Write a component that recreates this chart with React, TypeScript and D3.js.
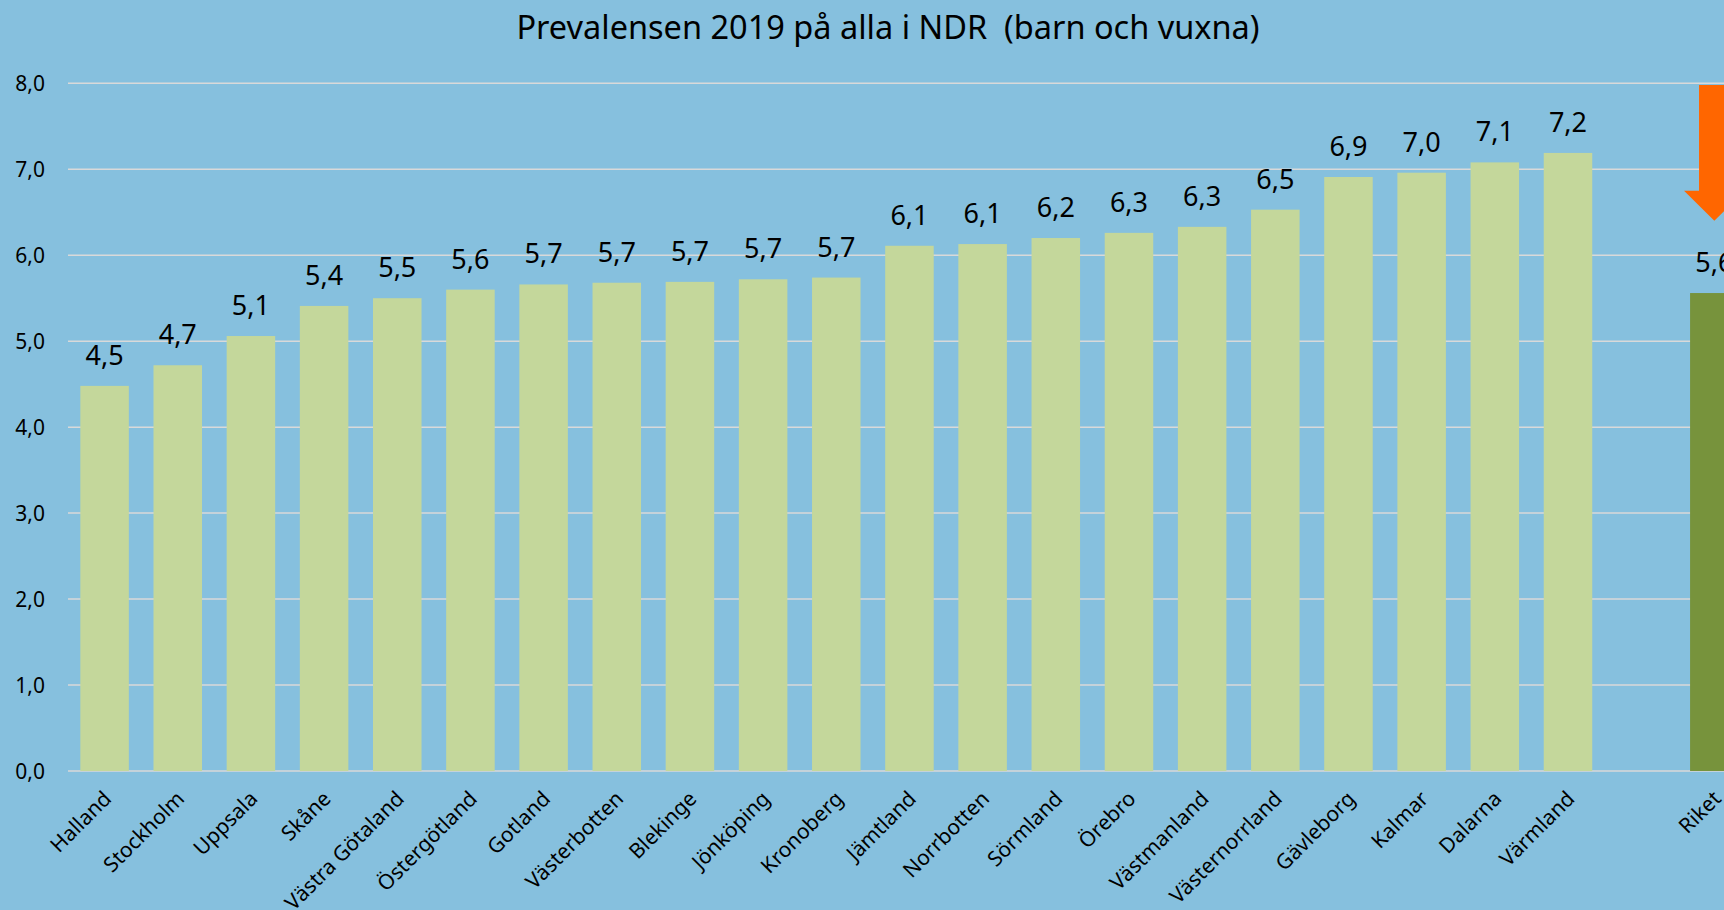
import React, { useEffect, useRef } from "react";
import * as d3 from "d3";

const regions = [
  "Halland", "Stockholm", "Uppsala", "Skåne", "Västra Götaland", "Östergötland",
  "Gotland", "Västerbotten", "Blekinge", "Jönköping", "Kronoberg", "Jämtland",
  "Norrbotten", "Sörmland", "Örebro", "Västmanland", "Västernorrland",
  "Gävleborg", "Kalmar", "Dalarna", "Värmland",
];
const regionValues = [
  4.48, 4.72, 5.06, 5.41, 5.5, 5.6, 5.66, 5.68, 5.69, 5.72, 5.74, 6.11,
  6.13, 6.2, 6.26, 6.33, 6.53, 6.91, 6.96, 7.08, 7.19,
];
const riketLabel = "Riket";
const riketValue = 5.56;
const yTicks = [0, 1, 2, 3, 4, 5, 6, 7, 8];
// arrow above Riket, in value units: top of shaft, end of shaft, tip
const arrowLevels = [7.98, 6.75, 6.4];

const title = "Prevalensen 2019 på alla i NDR  (barn och vuxna)";

const W = 1724;
const H = 910;
const font = "'Noto Sans', sans-serif";
const bg = "#86c0de";
const barColor = "#c4d79b";
const riketColor = "#77933c";
const arrowColor = "#ff6600";
const gridColor = "#d9d9d9";

const fmt = (v: number) => d3.format(".1f")(v).replace(".", ",");

export default function App() {
  const svgRef = useRef<SVGSVGElement>(null);

  useEffect(() => {
    document.body.style.margin = "0";
    document.body.style.overflow = "hidden";

    const svg = d3.select(svgRef.current);
    svg.selectAll("*").remove();

    const gap = "__gap";
    const domain = [...regions, gap, riketLabel];
    const rows = [
      ...regions.map((r, i) => ({ key: r, val: regionValues[i], riket: false })),
      { key: riketLabel, val: riketValue, riket: true },
    ];

    const x = d3.scaleBand<string>()
      .domain(domain)
      .range([68, 68 + 23 * 73.17])
      .paddingInner(0.337)
      .paddingOuter(0.1685);
    const y = d3.scaleLinear().domain([0, 8]).range([771, 83.3]);

    svg.append("rect").attr("width", W).attr("height", H).attr("fill", bg);

    svg.append("text")
      .attr("x", 888).attr("y", 39)
      .attr("text-anchor", "middle")
      .attr("font-family", font).attr("font-size", 32.5)
      .style("white-space", "pre")
      .attr("fill", "#000")
      .text(title);

    // grid + y labels
    svg.append("g").selectAll("line").data(yTicks).enter().append("line")
      .attr("x1", 68).attr("x2", W)
      .attr("y1", d => y(d)).attr("y2", d => y(d))
      .attr("stroke", gridColor).attr("stroke-width", 1.5);

    svg.append("g").selectAll("text").data(yTicks).enter().append("text")
      .attr("x", 45).attr("y", d => y(d) + 7.5)
      .attr("text-anchor", "end")
      .attr("font-family", font).attr("font-size", 21)
      .text(d => fmt(d));

    // bars
    svg.append("g").selectAll("rect").data(rows).enter().append("rect")
      .attr("x", d => x(d.key)!)
      .attr("width", x.bandwidth())
      .attr("y", d => y(d.val))
      .attr("height", d => y(0) - y(d.val))
      .attr("fill", d => (d.riket ? riketColor : barColor));

    // value labels
    svg.append("g").selectAll("text").data(rows).enter().append("text")
      .attr("x", d => x(d.key)! + x.bandwidth() / 2)
      .attr("y", d => y(d.val) - 21)
      .attr("text-anchor", "middle")
      .attr("font-family", font).attr("font-size", 27)
      .text(d => fmt(d.val));

    // category labels
    svg.append("g").selectAll("text").data(rows).enter().append("text")
      .attr("transform", d =>
        `translate(${x(d.key)! + x.bandwidth() / 2 + 8},${y(0) + 29}) rotate(-45)`)
      .attr("text-anchor", "end")
      .attr("font-family", font).attr("font-size", 21)
      .text(d => d.key);

    // orange arrow pointing at Riket
    const cx = x(riketLabel)! + x.bandwidth() / 2;
    const [aTop, aMid, aTip] = arrowLevels.map(v => y(v));
    const shaft = 15.3;
    const head = 30.3;
    svg.append("path")
      .attr("d", d3.line()([
        [cx - shaft, aTop], [cx + shaft, aTop], [cx + shaft, aMid],
        [cx + head, aMid], [cx, aTip], [cx - head, aMid], [cx - shaft, aMid],
      ]) + "Z")
      .attr("fill", arrowColor);
  }, []);

  return <svg ref={svgRef} width={W} height={H} style={{ display: "block" }}></svg>;
}
